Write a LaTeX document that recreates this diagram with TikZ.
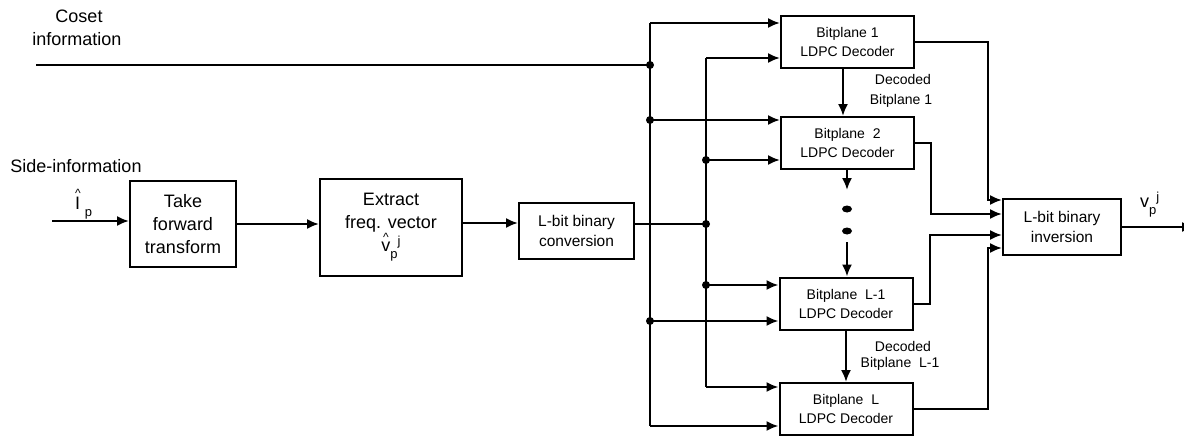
\documentclass[tikz,border=0pt]{standalone}
\usepackage{fontspec}
\setmainfont{Liberation Sans}
\usetikzlibrary{arrows.meta,shapes.geometric}
\newcommand\hatover[2]{\ooalign{\hfil\raisebox{#1}{\fontsize{12}{12}\selectfont\textasciicircum}\hfil\cr#2\cr}}
\begin{document}
\begin{tikzpicture}[x=1pt,y=-1pt,
  ln/.style={line width=2pt},
  arr/.style={line width=2pt,-{Latex[length=12pt,width=10pt]}},
  box/.style={draw,line width=2pt,align=center,inner sep=0pt},
  bigbox/.style={box,font=\fontsize{18}{23}\selectfont},
  midbox/.style={box,font=\fontsize{15.5}{20}\selectfont},
  decbox/.style={box,font=\fontsize{14}{19}\selectfont,minimum width=133pt,minimum height=52pt},
  lbl/.style={font=\fontsize{18}{23}\selectfont,inner sep=0pt},
  slbl/.style={font=\fontsize{14}{18}\selectfont,inner sep=0pt},
  jdot/.style={circle,fill,inner sep=0pt,minimum size=8pt},
  edot/.style={ellipse,fill,inner sep=0pt,minimum width=10pt,minimum height=7pt}]
\useasboundingbox (0,0) rectangle (1184,436);

% labels
\node[lbl] (coset1) at (79,16) {Coset};
\node[lbl] (coset2) at (77,39) {information};
\node[lbl] (side) at (76,166) {Side-information};
\node[lbl,anchor=west] (ihat) at (75,204) {\hatover{12pt}{I}\hspace{4pt}\raisebox{-7pt}{\fontsize{13}{13}\selectfont p}};

% boxes
\node[bigbox,minimum width=106pt,minimum height=86pt] (take) at (183,224) {Take\\forward\\transform};
\node[bigbox,minimum width=142pt,minimum height=97pt] (extract) at (391,227.5)
  {Extract\\freq. vector\\\hatover{10pt}{v}\raisebox{-7pt}{\fontsize{13}{13}\selectfont p}\raisebox{6pt}{\fontsize{13}{13}\selectfont j}};
\node[midbox,minimum width=115pt,minimum height=56pt] (conv) at (576.5,231) {L-bit binary\\conversion};
\node[decbox] (dec1) at (847.5,42) {Bitplane 1\\LDPC Decoder};
\node[decbox] (dec2) at (847.5,143) {Bitplane\ \ 2\\LDPC Decoder};
\node[decbox] (decL1) at (846,303.5) {Bitplane\ \ L-1\\LDPC Decoder};
\node[decbox] (decL) at (846,409) {Bitplane\ \ L\\LDPC Decoder};
\node[midbox,minimum width=118pt,minimum height=56pt] (inv) at (1062,227) {L-bit binary\\inversion};

% decoded labels
\node[slbl] (d1a) at (903,79) {Decoded};
\node[slbl] (d1b) at (901,101) {Bitplane 1};
\node[slbl] (d2a) at (903,346) {Decoded};
\node[slbl] (d2b) at (900,364) {Bitplane\ \ L-1};

% output label
\node[lbl,anchor=west] (vout) at (1140,205) {v\raisebox{-7pt}{\fontsize{13}{13}\selectfont p}\raisebox{6pt}{\fontsize{13}{13}\selectfont j}};

% coordinates
\coordinate (cs) at (36,65);
\coordinate (in) at (52,221);
\coordinate (lt) at (650,23);
\coordinate (lc) at (650,65);
\coordinate (l2) at (650,120);
\coordinate (l3) at (650,321);
\coordinate (lb) at (650,426);
\coordinate (rt) at (706,58);
\coordinate (r2) at (706,160);
\coordinate (rc) at (706,224);
\coordinate (r3) at (706,285);
\coordinate (rb) at (706,387);
\coordinate (out) at (1194,227);
\coordinate (e1) at (847,209);
\coordinate (e2) at (847,231);
\coordinate (ea) at (847,190);
\coordinate (eb) at (847,242);

% main chain
\draw[arr] (in) -- (in -| take.west);
\draw[arr] (take.east |- 0,224) -- (extract.west |- 0,224);
\draw[arr] (extract.east |- 0,223) -- (conv.west |- 0,223);
\draw[ln] (conv.east |- rc) -- (rc);
\draw[ln] (cs) -- (lc);

% buses
\draw[ln] (lt) -- (lb);
\draw[ln] (rt) -- (rb);
\draw[arr] (lt) -- (lt -| dec1.west);
\draw[arr] (rt) -- (rt -| dec1.west);
\draw[arr] (l2) -- (l2 -| dec2.west);
\draw[arr] (r2) -- (r2 -| dec2.west);
\draw[arr] (r3) -- (r3 -| decL1.west);
\draw[arr] (l3) -- (l3 -| decL1.west);
\draw[arr] (rb) -- (rb -| decL.west);
\draw[arr] (lb) -- (lb -| decL.west);

\foreach \p in {lc,l2,l3,r2,rc,r3} \node[jdot] at (\p) {};

% vertical chain
\draw[arr] ([xshift=-4.5pt]dec1.south) -- ([xshift=-4.5pt]dec2.north);
\draw[arr] (dec2.south -| ea) -- (ea);
\node[edot] (dot1) at (e1) {};
\node[edot] (dot2) at (e2) {};
\draw[arr] (eb) -- (eb |- decL1.north);
\draw[arr] (decL1.south) -- (decL.north);

% outputs to inversion
\draw[arr] (dec1.east) -| (988,200) -- (inv.west |- 0,200);
\draw[arr] (dec2.east) -| (931,214) -- (inv.west |- 0,214);
\draw[arr] (decL1.east) -| (930,235) -- (inv.west |- 0,235);
\draw[arr] (decL.east) -| (988,248) -- (inv.west |- 0,248);
\draw[arr] (inv.east) -- (out);
\end{tikzpicture}
\end{document}
